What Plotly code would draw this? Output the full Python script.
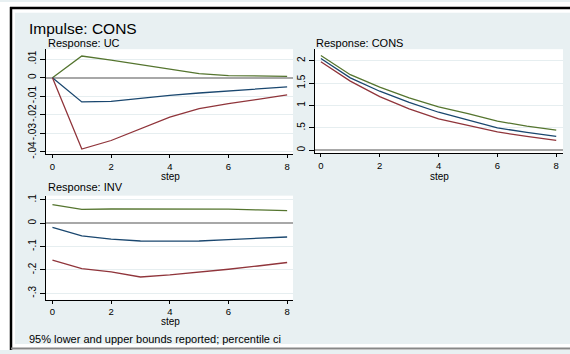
import plotly.graph_objects as go

steps = [0, 1, 2, 3, 4, 5, 6, 7, 8]

# Response: UC
uc_irf = [0, -0.0131, -0.0128, -0.0111, -0.0096, -0.0083, -0.0071, -0.0060, -0.0050]
uc_lo = [0, -0.0386, -0.0340, -0.0276, -0.0213, -0.0168, -0.0140, -0.0117, -0.0093]
uc_hi = [0, 0.0117, 0.0095, 0.0070, 0.0045, 0.0022, 0.0011, 0.0008, 0.0007]

# Response: CONS
cons_irf = [2.05, 1.62, 1.32, 1.07, 0.85, 0.68, 0.50, 0.40, 0.31]
cons_lo = [1.98, 1.545, 1.20, 0.925, 0.70, 0.56, 0.41, 0.31, 0.22]
cons_hi = [2.12, 1.69, 1.41, 1.17, 0.97, 0.82, 0.65, 0.54, 0.45]

# Response: INV
inv_irf = [-0.018, -0.054, -0.068, -0.076, -0.077, -0.076, -0.070, -0.065, -0.059]
inv_lo = [-0.158, -0.194, -0.208, -0.230, -0.221, -0.210, -0.197, -0.183, -0.168]
inv_hi = [0.080, 0.059, 0.061, 0.061, 0.061, 0.061, 0.060, 0.057, 0.054]

uc_ticks = [0.01, 0, -0.01, -0.02, -0.03, -0.04]
uc_ticktext = [".01", "0", "-.01", "-.02", "-.03", "-.04"]
cons_ticks = [2, 1.5, 1, 0.5, 0]
cons_ticktext = ["2", "1.5", "1", ".5", "0"]
inv_ticks = [0.1, 0, -0.1, -0.2, -0.3]
inv_ticktext = [".1", "0", "-.1", "-.2", "-.3"]
x_ticks = [0, 2, 4, 6, 8]

NAVY = "#1a476f"
MAROON = "#90353b"
GREEN = "#55752f"
BG = "#e8f0f2"
FONT = "Liberation Sans, Arial, sans-serif"

W, H = 570, 354

def px_x(a, b):
    return [a / W, b / W]

def px_y(top, bottom):
    return [1 - bottom / H, 1 - top / H]

fig = go.Figure()

panels = [
    ("x", "y", uc_irf, uc_lo, uc_hi),
    ("x2", "y2", cons_irf, cons_lo, cons_hi),
    ("x3", "y3", inv_irf, inv_lo, inv_hi),
]
for xa, ya, irf, lo, hi in panels:
    for vals, col in ((hi, GREEN), (irf, NAVY), (lo, MAROON)):
        fig.add_trace(go.Scatter(x=steps, y=vals, mode="lines", xaxis=xa, yaxis=ya,
                                 line=dict(color=col, width=1.3), showlegend=False,
                                 hoverinfo="skip"))

common_x = dict(tickvals=x_ticks, ticks="outside", ticklen=3, tickcolor="black",
                showline=True, linecolor="black", linewidth=1, showgrid=False,
                zeroline=False, tickfont=dict(size=9.5, color="black", family=FONT))
common_y = dict(ticks="outside", ticklen=5, tickcolor="black", showline=True,
                linecolor="black", linewidth=1, showgrid=True, gridcolor="#e6eef0",
                gridwidth=1, zeroline=True, zerolinecolor="#a8a8a8", zerolinewidth=1.5,
                tickangle=-90, tickfont=dict(size=10, color="black", family=FONT))

fig.update_layout(
    width=W, height=H,
    margin=dict(l=0, r=0, t=0, b=0),
    paper_bgcolor=BG,
    plot_bgcolor="white",
    showlegend=False,
    font=dict(family=FONT, color="black"),
    xaxis=dict(domain=px_x(46, 293), range=[-0.22, 8.2], anchor="y", **common_x),
    yaxis=dict(domain=px_y(48, 155), range=[-0.0415, 0.0154], anchor="x",
               tickvals=uc_ticks, ticktext=uc_ticktext, **common_y),
    xaxis2=dict(domain=px_x(315, 563), range=[-0.2, 8.23], anchor="y2", **common_x),
    yaxis2=dict(domain=px_y(48, 154), range=[-0.07, 2.26], anchor="x2",
                tickvals=cons_ticks, ticktext=cons_ticktext, **common_y),
    xaxis3=dict(domain=px_x(46, 293), range=[-0.22, 8.2], anchor="y3", **common_x),
    yaxis3=dict(domain=px_y(197, 303), range=[-0.328, 0.118], anchor="x3",
                tickvals=inv_ticks, ticktext=inv_ticktext, **common_y),
)

def prect(x0, y0, x1, y1, color):
    return dict(type="rect", xref="paper", yref="paper", x0=x0 / W, x1=x1 / W,
                y0=1 - y1 / H, y1=1 - y0 / H, fillcolor=color, line=dict(width=0),
                layer="above")

shapes = [
    # white surround outside the graph region
    prect(0, 0, W, 11, "white"),
    prect(0, 0, 15, H, "white"),
    prect(0, 348, W, H, "white"),
    # frame lines
    dict(type="line", xref="paper", yref="paper", x0=10 / W, x1=1, y0=1 - 6 / H, y1=1 - 6 / H,
         line=dict(color="black", width=2.5)),
    dict(type="line", xref="paper", yref="paper", x0=11 / W, x1=11 / W, y0=0, y1=1 - 5 / H,
         line=dict(color="black", width=2.5)),
    dict(type="line", xref="paper", yref="paper", x0=11 / W, x1=1, y0=1 - 352.5 / H, y1=1 - 352.5 / H,
         line=dict(color="#888888", width=2)),
]
fig.update_layout(shapes=shapes)

def ann(text, x, y, size, xanchor="left"):
    return dict(text=text, x=x / W, y=1 - y / H, xref="paper", yref="paper",
                xanchor=xanchor, yanchor="middle", showarrow=False, borderpad=0,
                font=dict(size=size, color="black", family=FONT))

fig.update_layout(annotations=[
    ann("Impulse: CONS", 28, 27, 15.5),
    ann("Response: UC", 47, 42, 11),
    ann("Response: CONS", 315, 42, 11),
    ann("Response: INV", 47, 188, 11),
    ann("step", 170, 178, 10, "center"),
    ann("step", 439, 177, 10, "center"),
    ann("step", 170, 325, 10, "center"),
    ann("95% lower and upper bounds reported; percentile ci", 28, 343, 11),
])

fig.write_html("out.html")
